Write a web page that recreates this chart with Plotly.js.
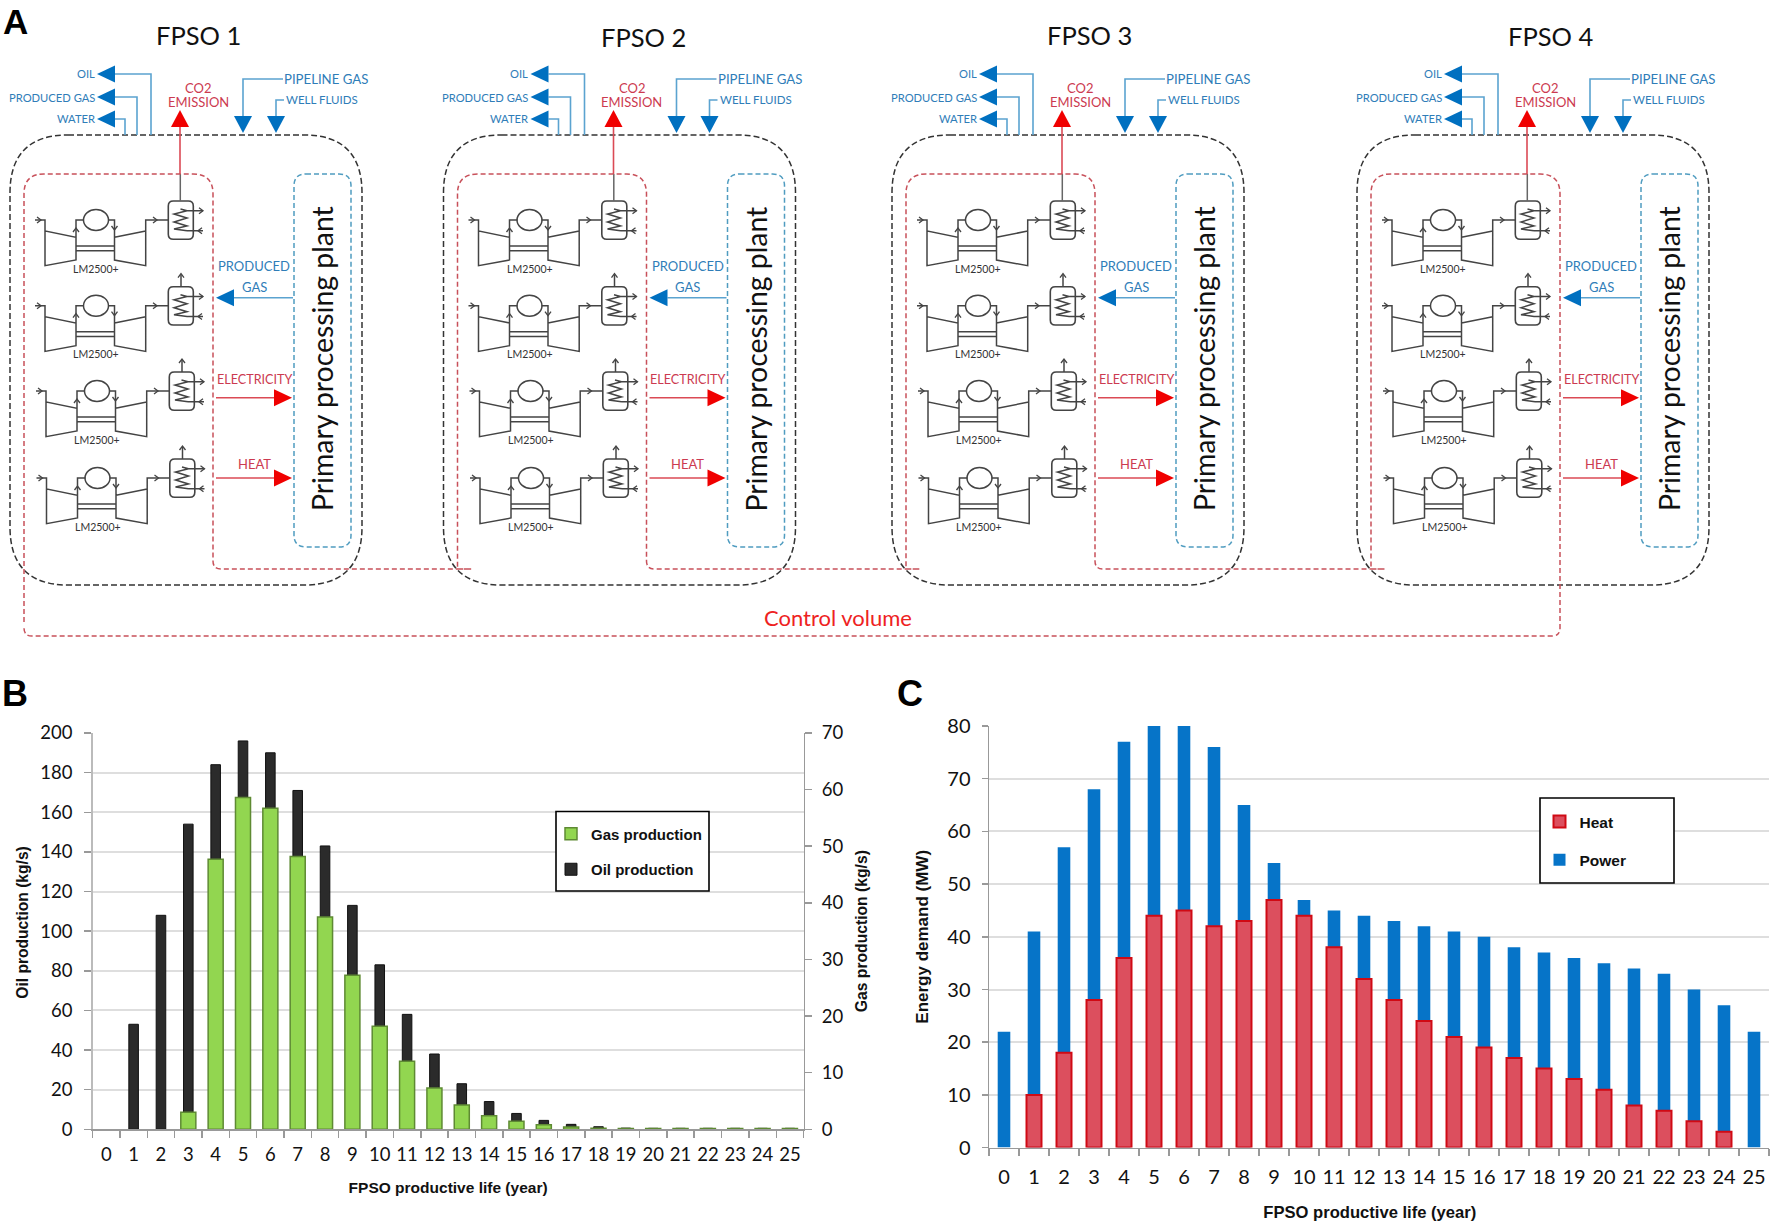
<!DOCTYPE html>
<html>
<head>
<meta charset="utf-8">
<script src="https://cdn.plot.ly/plotly-3.0.1.min.js"></script>
<style>html,body{margin:0;padding:0;background:#fff}#chart{width:1772px;height:1223px}</style>
</head>
<body>
<div id="chart"></div>
<script>
// ---------- chart data ----------
var years = ["0","1","2","3","4","5","6","7","8","9","10","11","12","13","14","15","16","17","18","19","20","21","22","23","24","25"];
var oilProduction = [null,53,108,154,184,196,190,171,143,113,83,58,38,23,14,8,4.5,2.5,1.3,0.6,0.5,0.5,0.5,0.5,0.5,0.5];
var gasProduction = [null,null,null,3,47.7,58.6,56.7,48.2,37.5,27.2,18.2,12,7.3,4.3,2.4,1.4,0.8,0.4,0.2,0.15,0.15,0.15,0.15,0.15,0.15,0.15];
var powerDemand = [22,41,57,68,77,82,82,76,65,54,47,45,44,43,42,41,40,38,37,36,35,34,33,30,27,22];
var heatDemand = [null,10,18,28,36,44,45,42,43,47,44,38,32,28,24,21,19,17,15,13,11,8,7,5,3,null];
var fpsoNames = ["FPSO 1","FPSO 2","FPSO 3","FPSO 4"];
var turbineName = "LM2500+";

// ---------- page geometry helpers (paper space expressed in page pixels) ----------
var W = 1772, H = 1223;
function px(x){ return x / W; }
function py(y){ return 1 - y / H; }
function pt(x,y){ return px(x) + "," + py(y); }
function poly(points, close){
  return points.map(function(p,i){ return (i ? "L" : "M") + pt(p[0],p[1]); }).join(" ") + (close ? " Z" : "");
}
var shapes = [], notes = [];
var BLUE = "#0070C0", BLUELINE = "#5BA3D0", RED = "#F00000", REDLINE = "#DB4A55";
var BLUETXT = "#2F7DB8", REDTXT = "#CC3A50", GLYPH = "#444444";

function stroke(path, color, width, dash){
  shapes.push({type:"path", xref:"paper", yref:"paper", path:path, line:{color:color, width:width, dash:dash||"solid"}});
}
function fill(points, color){
  shapes.push({type:"path", xref:"paper", yref:"paper", path:poly(points,true), fillcolor:color, line:{width:0, color:color}});
}
function text(x,y,t,size,color,anchor,extra){
  var a = {xref:"paper", yref:"paper", x:px(x), y:py(y), text:t, showarrow:false, xanchor:anchor||"center", yanchor:"middle",
           font:{family:"Lato, Open Sans, sans-serif", size:size, color:color}};
  if(extra) for(var k in extra) a[k]=extra[k];
  notes.push(a);
}
// rounded rectangle using quadratic corners
function roundRect(l,t,r,b,rad){
  return "M"+pt(l+rad,t)+" L"+pt(r-rad,t)+" Q"+pt(r,t)+" "+pt(r,t+rad)+" L"+pt(r,b-rad)+" Q"+pt(r,b)+" "+pt(r-rad,b)+
         " L"+pt(l+rad,b)+" Q"+pt(l,b)+" "+pt(l,b-rad)+" L"+pt(l,t+rad)+" Q"+pt(l,t)+" "+pt(l+rad,t)+" Z";
}
function headL(x,y,c){ fill([[x,y],[x+18,y-8.5],[x+18,y+8.5]],c); }
function headR(x,y,c){ fill([[x,y],[x-18,y-8.5],[x-18,y+8.5]],c); }
function headU(x,y,c){ fill([[x,y],[x-9,y+17],[x+9,y+17]],c); }
function headD(x,y,c){ fill([[x,y],[x-9,y-17],[x+9,y-17]],c); }

function smallR(x,y){ stroke(poly([[x-3,y-3],[x+1,y],[x-3,y+3]]),GLYPH,1.3); }
function smallL(x,y){ stroke(poly([[x+3,y-3],[x-1,y],[x+3,y+3]]),GLYPH,1.3); }
function smallU(x,y){ stroke(poly([[x-3,y+3],[x,y-1],[x+3,y+3]]),GLYPH,1.3); }
function smallD(x,y){ stroke(poly([[x-3,y-3],[x,y+1],[x+3,y-3]]),GLYPH,1.3); }

function turbine(cx,cy,hasVent){
  function a(x,y){ return [cx+x,cy+y]; }
  var p = [
    poly([a(-61,0),a(-51,0),a(-51,11),a(-20,17.3),a(-20,40),a(-51,45.7),a(-51,11)]),
    poly([a(-20,17.3),a(-20,0),a(-12,0)]),
    poly([a(12,0),a(18.5,0),a(18.5,40),a(49.7,45.7),a(49.7,0),a(72,0)]),
    poly([a(18.5,17.3),a(49.7,11)]),
    poly([a(-20,26),a(18.5,26)]),
    poly([a(-20,30.7),a(18.5,30.7)]),
    poly([a(91,-9.3),a(107,-9.3)]),
    poly([a(91,10.7),a(107,10.7)]),
    poly([a(84.5,-11),a(91,-9.3),a(78,-6),a(91,-2),a(78,2),a(91,6),a(78,9),a(91,10.7)])
  ].join(" ");
  stroke(p,GLYPH,1.5);
  stroke(roundRect(cx+72.3,cy-19,cx+97.3,cy+19.3,5),GLYPH,1.6);
  var rx=12.5, ry=10.5;
  shapes.push({type:"circle", xref:"paper", yref:"paper", x0:px(cx-rx), x1:px(cx+rx), y0:py(cy-ry), y1:py(cy+ry), line:{color:GLYPH,width:1.5}});
  smallR(cx-56,cy); smallR(cx+60,cy); smallU(cx-20,cy+9); smallD(cx+18.5,cy+9);
  smallR(cx+106,cy-9.3); smallL(cx+103,cy+10.7);
  if(hasVent){
    stroke(poly([a(85,-19),a(85,-31)]),GLYPH,1.5); smallU(cx+85,cy-31);
  } else {
    stroke(poly([a(84.3,-19),a(84.3,-46)]),"#666666",1.5);
  }
  text(cx,cy+48.5,turbineName,10.5,"#333333");
}

// per-plant placement of the repeated diagram
var dxs = [0,433.5,882,1347];
var titleXs = [198,643,1089,1551];
var titleYs = [35,37,35,36];
var rowYs = [220,305.7,391,478];
var rowDx = [0,0,1,1.5];

fpsoNames.forEach(function(name,i){
  var d = dxs[i];
  var X = function(x){ return x + d; };
  text(titleXs[i],titleYs[i],name,25.5,"#111111");
  stroke(roundRect(X(10),135,X(362),585,58),"#333333",1.5,"6px,3px");
  stroke(roundRect(X(294),174,X(351),547,12),"#4F9CC0",1.5,"5px,3px");
  [["OIL",74,151],["PRODUCED GAS",97,137],["WATER",119,125]].forEach(function(s){
    text(X(96.5),s[1],s[0],11.2,BLUETXT,"right");
    stroke(poly([[X(115),s[1]],[X(s[2]),s[1]],[X(s[2]),135]]),BLUELINE,1.6);
    headL(X(97),s[1],BLUE);
  });
  text(X(198),88,"CO2",13,REDTXT);
  text(X(198),102,"EMISSION",13,REDTXT);
  stroke(poly([[X(180),127],[X(180),174]]),REDLINE,1.6);
  headU(X(180),110,RED);
  text(X(282),79,"PIPELINE GAS",13.2,BLUETXT,"left");
  stroke(poly([[X(283),79],[X(243),79],[X(243),116]]),BLUELINE,1.6);
  headD(X(243),133,BLUE);
  text(X(284),100,"WELL FLUIDS",11.5,BLUETXT,"left");
  stroke(poly([[X(284),100],[X(276),100],[X(276),116]]),BLUELINE,1.6);
  headD(X(276),133,BLUE);
  text(X(254),266.5,"PRODUCED",13,BLUETXT);
  text(X(254),286.5,"GAS",13,BLUETXT);
  stroke(poly([[X(293),297.7],[X(234),297.7]]),BLUELINE,1.6);
  headL(X(216),297.7,BLUE);
  text(X(254),380,"ELECTRICITY",12.6,REDTXT);
  stroke(poly([[X(216),397.7],[X(275),397.7]]),REDLINE,1.6);
  headR(X(292),397.7,RED);
  text(X(254),464,"HEAT",13,REDTXT);
  stroke(poly([[X(216),478],[X(275),478]]),REDLINE,1.6);
  headR(X(292),478,RED);
  text(X(322),359,"Primary processing plant",28.4,"#111111","center",{textangle:-90});
  rowYs.forEach(function(cy,r){ turbine(X(96+rowDx[r]),cy,r>0); });
});

// control volume outline running through all four plants
(function(){
  var rad=14, top=174, low=569, bot=636, s="";
  var l0=24+dxs[0], r3=213+dxs[3];
  s += "M"+pt(l0,bot-rad)+" L"+pt(l0,top+rad+6)+" Q"+pt(l0,top)+" "+pt(l0+rad+6,top);
  dxs.forEach(function(d,i){
    var l=24+d, r=213+d;
    if(i>0){
      s += " L"+pt(l+rad,low)+" L"+pt(l,low)+" L"+pt(l,top+rad+6)+" Q"+pt(l,top)+" "+pt(l+rad+6,top);
    }
    s += " L"+pt(r-rad-6,top)+" Q"+pt(r,top)+" "+pt(r,top+rad+6);
    if(i<3){ s += " L"+pt(r,low-8)+" Q"+pt(r,low)+" "+pt(r+8,low); }
  });
  s += " L"+pt(r3,bot-8)+" Q"+pt(r3,bot)+" "+pt(r3-8,bot)+" L"+pt(l0+8,bot)+" Q"+pt(l0,bot)+" "+pt(l0,bot-8);
  stroke(s,"#C8505A",1.5,"5px,3px");
})();
text(838,617,"Control volume",22,"#EE2222");

// panel letters
[["A",15,21],["B",15,693],["C",910,693]].forEach(function(p){
  notes.push({xref:"paper",yref:"paper",x:px(p[1]),y:py(p[2]),text:"<b>"+p[0]+"</b>",showarrow:false,xanchor:"center",yanchor:"middle",
              font:{family:"Liberation Sans, Arial, sans-serif",size:p[0]==="A"?35:36,color:"#000"}});
});

// legend boxes (sized independently of the legend's own auto-size)
function legendBox(l,t,r,b){
  shapes.push({type:"rect", xref:"paper", yref:"paper", x0:px(l), x1:px(r), y0:py(b), y1:py(t), fillcolor:"#fff", line:{color:"#000",width:1.6}});
}
legendBox(556,811.5,709,891);
legendBox(1540,798,1674,883);

// ---------- plotly traces ----------
var traces = [
  {type:"bar", name:"Oil production", x:years, y:oilProduction, xaxis:"x", yaxis:"y", width:0.35,
   marker:{color:"#2B2B2B", line:{color:"#111111",width:1}}, legend:"legend", legendgroup:"oil", legendrank:2},
  {type:"bar", name:"Gas production", x:years, y:gasProduction, xaxis:"x", yaxis:"y2", width:0.55,
   marker:{color:"#92D650", line:{color:"#5E8A33",width:1.5}}, legend:"legend", legendgroup:"gas", legendrank:1},
  {type:"bar", name:"Power", x:years, y:powerDemand, xaxis:"x2", yaxis:"y3", width:0.42,
   marker:{color:"#0674C8", line:{width:0}}, legend:"legend2", legendgroup:"power", legendrank:2},
  {type:"bar", name:"Heat", x:years, y:heatDemand, xaxis:"x2", yaxis:"y3", width:0.5,
   marker:{color:"#DC4F5E", line:{color:"#D00A14",width:2}}, legend:"legend2", legendgroup:"heat", legendrank:1}
];

var tickFont = {family:"Lato, sans-serif", size:18.5, color:"#111"};
var tickFontC = {family:"Lato, sans-serif", size:20, color:"#111"};
var titleFamily = "Liberation Sans, Arial, sans-serif";
var NB4 = "&nbsp;&nbsp;&nbsp;&nbsp;";
function xAxis(dom,anchor,title,tsize,font,labelGap,gap){
  return {domain:[px(dom[0]),px(dom[1])], anchor:anchor, type:"category", categoryorder:"array", categoryarray:years,
    tickson:"boundaries", ticks:"outside", ticklen:7, tickcolor:"#999", tickwidth:1.5, showline:true, linecolor:"#999", linewidth:1.5,
    showgrid:false, zeroline:false, tickfont:font, ticklabelstandoff:labelGap, tickangle:0, fixedrange:true,
    title:{text:title, font:{family:titleFamily, size:tsize, color:"#111"}, standoff:gap}};
}
function yDom(t,b){ return [py(b),py(t)]; }

var layout = {
  width:W, height:H, margin:{l:0,r:0,t:0,b:0}, paper_bgcolor:"#fff", plot_bgcolor:"rgba(0,0,0,0)",
  barmode:"overlay", showlegend:true, shapes:shapes, annotations:notes,
  font:{family:"Lato, sans-serif"},
  xaxis: xAxis([92.6,803.6],"y","<b>FPSO productive life (year)</b>",15.5,tickFont,8,18),
  yaxis:{domain:yDom(733,1129.3), anchor:"x", range:[0,200], dtick:20, ticks:"outside", ticklen:7, tickcolor:"#999", tickwidth:1.5,
    showline:true, linecolor:"#bbb", linewidth:1.5, gridcolor:"#DEDEDE", gridwidth:2, zeroline:false, tickfont:tickFont, ticklabelstandoff:8, fixedrange:true,
    title:{text:NB4+"<b>Oil production (kg/s)</b>", font:{family:titleFamily, size:15.6, color:"#111"}, standoff:7.5}},
  yaxis2:{domain:yDom(733,1129.3), anchor:"x", overlaying:"y", side:"right", range:[0,70], dtick:10, ticks:"outside", ticklen:7, tickcolor:"#999", tickwidth:1.5,
    showline:true, linecolor:"#999", linewidth:1.5, showgrid:false, zeroline:false, tickfont:tickFont, ticklabelstandoff:6, fixedrange:true,
    title:{text:"<b>Gas production (kg/s)</b>", font:{family:titleFamily, size:15.7, color:"#111"}, standoff:13}},
  xaxis2: xAxis([989,1769],"y3","<b>FPSO productive life (year)</b>"+NB4,16.6,tickFontC,11,19),
  yaxis3:{domain:yDom(726,1147.6), anchor:"x2", range:[0,80], dtick:10, ticks:"outside", ticklen:6, tickcolor:"#999", tickwidth:1.5,
    showline:true, linecolor:"#999", linewidth:1.5, gridcolor:"#DEDEDE", gridwidth:2, zeroline:false, tickfont:tickFontC, ticklabelstandoff:7, fixedrange:true,
    title:{text:"<b>Energy demand (MW)</b>", font:{family:titleFamily, size:17, color:"#111"}, standoff:14}},
  legend:{x:px(551), y:py(817.5), xanchor:"left", yanchor:"top", bgcolor:"rgba(0,0,0,0)", borderwidth:0,
    traceorder:"grouped", tracegroupgap:13,
    font:{family:titleFamily, size:15, color:"#111", weight:"bold"}},
  legend2:{x:px(1539.5), y:py(805), xanchor:"left", yanchor:"top", bgcolor:"rgba(0,0,0,0)", borderwidth:0,
    traceorder:"grouped", tracegroupgap:15,
    font:{family:titleFamily, size:15.5, color:"#111", weight:"bold"}}
};

Plotly.newPlot("chart", traces, layout, {displayModeBar:false, staticPlot:true});
</script>
</body>
</html>
